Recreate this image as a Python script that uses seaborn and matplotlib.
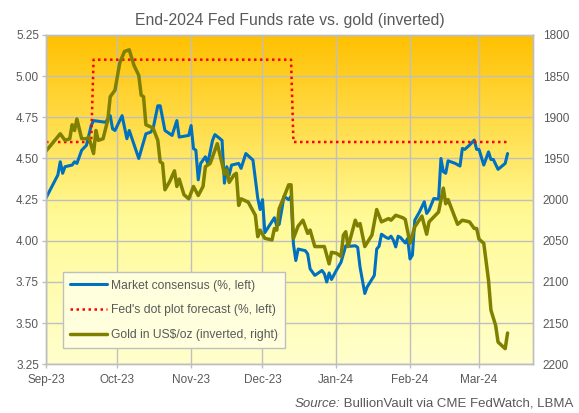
import numpy as np
import pandas as pd
import seaborn as sns
import matplotlib.pyplot as plt
import matplotlib.dates as mdates
from matplotlib.colors import LinearSegmentedColormap

# days counted from 1 Sep 2023
rate_day = [0, 5, 6, 7, 8, 11, 12, 13, 15, 17,
            19, 20, 25, 27, 28, 29, 32, 34, 35, 39,
            42, 44, 45, 47, 48, 50, 52, 53, 55, 56,
            60, 61, 62, 63, 64, 65, 67, 68, 70, 71,
            74, 75, 76, 77, 78, 81, 82, 84, 87, 89,
            90, 91, 92, 96, 97, 98, 99, 100, 101, 102,
            103, 104, 105, 106, 109, 110, 111, 113, 116, 117,
            118, 119, 120, 122, 124, 126, 128, 130, 131, 132,
            134, 135, 138, 139, 140, 141, 143, 144, 145, 146,
            147, 148, 149, 151, 152, 153, 154, 155, 157, 159,
            160, 161, 163, 165, 166, 167, 168, 169, 172, 174,
            175, 176, 178, 180, 181, 182, 184, 186, 187, 188,
            190, 193, 194]
rate_pct = [4.26, 4.40, 4.48, 4.41, 4.45, 4.46, 4.48, 4.47, 4.55, 4.58,
            4.70, 4.73, 4.72, 4.76, 4.68, 4.67, 4.76, 4.62, 4.67, 4.50,
            4.65, 4.66, 4.68, 4.82, 4.82, 4.67, 4.65, 4.64, 4.73, 4.63,
            4.64, 4.70, 4.56, 4.55, 4.37, 4.47, 4.51, 4.47, 4.61, 4.645,
            4.61, 4.35, 4.45, 4.40, 4.46, 4.47, 4.44, 4.53, 4.49, 4.26,
            4.19, 4.25, 4.05, 4.14, 4.09, 4.10, 4.18, 4.27, 4.26, 4.25,
            4.27, 3.98, 3.88, 3.95, 3.94, 3.92, 3.83, 3.79, 3.82, 3.80,
            3.75, 3.805, 3.765, 3.82, 3.87, 3.97, 3.967, 3.97, 3.96, 3.84,
            3.68, 3.72, 3.79, 3.95, 3.967, 4.04, 4.02, 4.014, 4.028, 4.004,
            3.963, 4.028, 4.02, 3.987, 4.014, 3.89, 3.913, 4.125, 4.176, 4.237,
            4.166, 4.186, 4.257, 4.253, 4.50, 4.42, 4.41, 4.486, 4.47, 4.454,
            4.561, 4.555, 4.581, 4.612, 4.555, 4.555, 4.46, 4.54, 4.494, 4.494,
            4.434, 4.47, 4.53]

dot_day = [0, 19, 20, 103, 104, 194]
dot_pct = [4.60, 4.60, 5.10, 5.10, 4.60, 4.60]

gold_day = [0, 6, 8, 10, 11, 12, 13, 15, 17, 18,
            20, 21, 22, 24, 26, 27, 29, 31, 33, 35,
            37, 39, 40, 41, 42, 45, 47, 48, 49, 50,
            52, 54, 55, 56, 58, 60, 62, 64, 66, 67,
            69, 71, 72, 74, 75, 76, 77, 79, 80, 81,
            82, 85, 88, 89, 90, 92, 95, 96, 97, 98,
            100, 102, 103, 104, 106, 108, 110, 111, 113, 117,
            119, 120, 122, 124, 125, 126, 127, 130, 131, 132,
            134, 137, 139, 141, 144, 145, 147, 150, 151, 153,
            155, 158, 160, 161, 165, 167, 168, 169, 173, 175,
            178, 180, 181, 182, 184, 186, 187, 189, 190, 193,
            194]
gold_usd = [1941, 1920, 1928, 1926, 1909, 1916, 1902, 1926, 1926, 1924,
            1944, 1916, 1928, 1926, 1903, 1875, 1867, 1834, 1820, 1818,
            1837, 1849, 1873, 1875, 1909, 1913, 1928, 1954, 1956, 1988,
            1978, 1965, 1984, 1975, 1994, 1999, 1984, 1995, 1984, 1960,
            1956, 1940, 1932, 1956, 1969, 1964, 1979, 1970, 1968, 2007,
            1999, 2003, 2019, 2045, 2037, 2047, 2049, 2035, 2037, 2011,
            1997, 1982, 1982, 2047, 2032, 2025, 2041, 2037, 2057, 2057,
            2078, 2064, 2065, 2069, 2043, 2039, 2057, 2025, 2032, 2029,
            2057, 2043, 2012, 2027, 2023, 2025, 2019, 2022, 2024, 2053,
            2033, 2020, 2042, 2027, 2015, 1986, 2005, 2000, 2030, 2025,
            2027, 2035, 2035, 2048, 2053, 2098, 2134, 2153, 2173, 2181,
            2162]

labels = ["Market consensus (%, left)",
          "Fed's dot plot forecast (%, left)",
          "Gold in US$/oz (inverted, right)"]

start = pd.Timestamp("2023-09-01")
rate_df = pd.DataFrame({"date": start + pd.to_timedelta(rate_day, unit="D"), "value": rate_pct})
dot_df = pd.DataFrame({"date": start + pd.to_timedelta(dot_day, unit="D"), "value": dot_pct})
gold_df = pd.DataFrame({"date": start + pd.to_timedelta(gold_day, unit="D"), "value": gold_usd})

sns.set_style("white")
plt.rcParams["font.family"] = ["Liberation Sans", "DejaVu Sans"]

txt = "#595959"
edge = "#BFBFBF"

fig = plt.figure(figsize=(5.79, 4.13), dpi=100)
ax = fig.add_axes([0.0794, 0.1179, 0.8412, 0.7974])

x0 = start
x1 = start + pd.Timedelta(days=204.7)

# yellow-orange gradient fill of the plot area
cmap = LinearSegmentedColormap.from_list(
    "bg", [(0, "#FFFFCC"), (0.45, "#FFFA96"), (1, "#FFC000")])
grad = np.linspace(0, 1, 256).reshape(-1, 1)
ax.set_xlim(x0, x1)
ax.imshow(grad, aspect="auto", cmap=cmap, origin="lower", zorder=0,
          extent=[mdates.date2num(x0), mdates.date2num(x1), 3.25, 5.25])

sns.lineplot(data=rate_df, x="date", y="value", ax=ax, color="#0070C0",
             lw=2.2, label=labels[0], legend=False, sort=False)
sns.lineplot(data=dot_df, x="date", y="value", ax=ax, color="#FF0000",
             lw=1.8, label=labels[1], legend=False, sort=False,
             linestyle=(0, (1, 1.4)))

ax2 = ax.twinx()
sns.lineplot(data=gold_df, x="date", y="value", ax=ax2, color="#808000",
             lw=2.5, label=labels[2], legend=False, sort=False)

ax.set_xlim(x0, x1)
ax.set_ylim(3.25, 5.25)
ax2.set_ylim(2200, 1800)
ax.set_yticks(np.arange(3.25, 5.26, 0.25))
ax2.set_yticks(np.arange(1800, 2201, 50))
ax.yaxis.set_major_formatter(plt.FormatStrFormatter("%.2f"))
ax2.yaxis.set_major_formatter(plt.FormatStrFormatter("%d"))
ax.xaxis.set_major_locator(mdates.MonthLocator())
ax.xaxis.set_major_formatter(mdates.DateFormatter("%b-%y"))

ax.set_xlabel("")
ax.set_ylabel("")
ax2.set_ylabel("")

ax.grid(True, color=edge, lw=1)
ax2.grid(False)
for a in (ax, ax2):
    for s in a.spines.values():
        s.set_color(edge)
        s.set_linewidth(1)

ax.tick_params(axis="x", length=3, width=1, color=edge, labelcolor=txt,
               labelsize=8.5, pad=4, bottom=True)
ax.tick_params(axis="y", length=3, width=1, color=edge, labelcolor=txt,
               labelsize=8.5, pad=2, left=True)
ax2.tick_params(axis="y", length=0, labelcolor=txt, labelsize=8.5, pad=7)

h1, l1 = ax.get_legend_handles_labels()
h2, l2 = ax2.get_legend_handles_labels()
leg = ax2.legend(h1 + h2, l1 + l2, loc="lower left",
                 bbox_to_anchor=(0.035, 0.0486), borderaxespad=0,
                 fontsize=8.7, labelcolor=txt, handlelength=3.0,
                 handletextpad=0.35, labelspacing=1.05, borderpad=0.6,
                 fancybox=False, framealpha=1, facecolor="#FFFFDD",
                 edgecolor=edge)
leg.get_frame().set_linewidth(1)

fig.text(0.5, 0.9395, "End-2024 Fed Funds rate vs. gold (inverted)",
         ha="center", va="baseline", fontsize=11.3, color=txt)

# source line: italic "Source:" followed by plain text, right aligned
src = fig.text(0.990, 0.0153, " BullionVault via CME FedWatch, LBMA",
               ha="right", va="baseline", fontsize=9.5, color=txt)
fig.canvas.draw()
bb = src.get_window_extent(fig.canvas.get_renderer())
fig.text(bb.x0 / fig.bbox.width, 0.0153, "Source:", ha="right",
         va="baseline", fontsize=9.5, color=txt, style="italic")

fig.savefig("out.png", dpi=100)
